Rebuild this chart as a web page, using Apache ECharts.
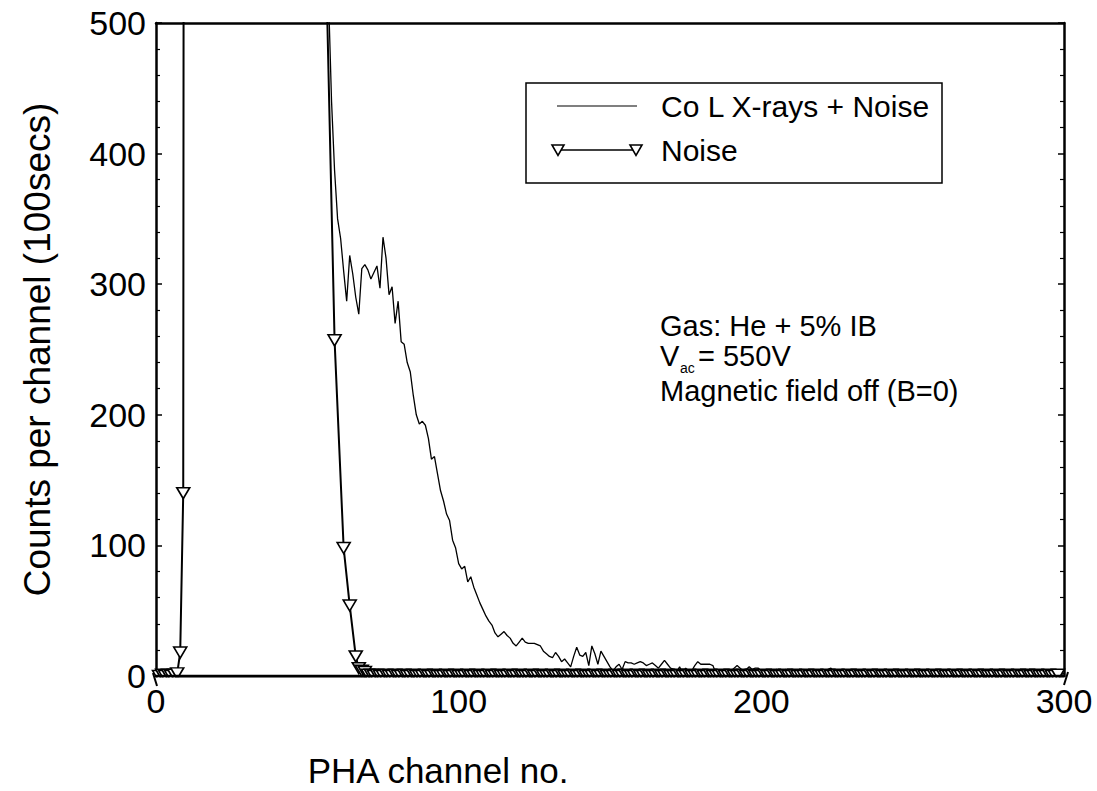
<!DOCTYPE html>
<html><head><meta charset="utf-8">
<script src="https://cdn.jsdelivr.net/npm/echarts@6/dist/echarts.min.js"></script>
<style>html,body{margin:0;padding:0;background:#fff}#c{width:1097px;height:791px}</style>
</head><body><div id="c"></div>
<script>
// ---- data ----
const xrayName = 'Co L X-rays + Noise';
const noiseName = 'Noise';
const xTitle = 'PHA channel no.';
const yTitle = 'Counts per channel (100secs)';
const noteLines = ['Gas: He + 5% IB', 'V', 'ac', '= 550V', 'Magnetic field off (B=0)'];
const xMin = 0, xMax = 300, xStep = 100;
const yMin = 0, yMax = 500, yStep = 100;

// Co L X-rays + Noise: channel start and per-channel counts
const xrayStart = 50;
const xrayCounts = [
 1500,1300,1100,950,820,730,640,520,440,387,
 350,335,310,287,322,308,290,277,312,315,
 311,304,309,314,297,336,320,292,298,270,
 287,256,254,240,233,215,200,193,195,192,
 182,166,168,155,142,134,124,119,104,98,
 86,82,84,72,76,68,62,56,51,46,
 42,39,33,30,32,34,31,29,25,23,
 26,29,26,25,25,25,24,23,19,17,
 15,14,18,15,11,13,10,7,15,22,
 16,15,18,8,23,17,9,19,15,11,
 7,4,7,9,5,11,10,10,9,10,
 11,10,8,9,10,8,6,9,12,9,
 6,5,3,7,2,6,3,4,8,11,
 9,9,9,9,8,2,4,4,4,4,
 4,6,8,6,4,5,7,5,6,6,
 2,3,3,2,4,5,4,3,5,4,
 5,3,4,3,5,4,2,3,5,3,
 4,3,5,6,3,5,3,4,3,5,
 3,2,4,3,2,4,3,2,3,2,
 3,2,3,3,2,3,2,2,1,2,
 2,1,2,2,1,2,1,2,2,1,
 2,2,1,2,1,2,2,1,2,1,
 2,1,2,2,1,2,1,2,1,2,
 2,1,2,1,2,1,2,2,1,2,
 1,2,1,2,1,2,2,1,2,1,
 2
];

// Noise: measured points (channel, counts)
const noiseChannels = [1,2,3,4,5,6,7,8,9,10,53.5,59,62,64,66,67,68,69,70];
const noiseCounts   = [0,1,0,1,0,1,2,18,140,3500,820,257,98,54,15,6,4,3,1];
// Noise baseline, channels 71..298
const noiseTailStart = 71;
const noiseTail = [
 1,0,1,0,0,1,0,0,1,0, 0,1,0,0,1,0,0,0,1,0, 0,1,0,0,0,1,0,0,1,0,
 0,0,1,0,0,1,0,0,0,1, 0,0,1,0,0,0,1,0,0,1, 0,0,0,1,0,0,1,0,0,0,
 1,0,0,1,0,0,0,1,0,0, 1,0,0,0,1,0,0,1,0,0, 0,1,0,0,1,0,0,0,1,0,
 0,1,0,0,0,1,0,0,1,0, 0,0,1,0,0,1,0,0,0,1, 0,0,1,0,0,0,1,0,0,1,
 0,0,0,1,0,0,1,0,0,0, 1,0,0,1,0,0,0,1,0,0, 1,0,0,0,1,0,0,1,0,0,
 0,1,0,0,1,0,0,0,1,0, 0,1,0,0,0,1,0,0,1,0, 0,0,1,0,0,1,0,0,0,1,
 0,0,1,0,0,0,1,0,0,1, 0,0,0,1,0,0,1,0,0,0, 1,0,0,1,0,0,0,1,0,0,
 1,0,0,0,1,0,0,1,0,0, 1,0,0,0,1,0,0,1
];

// ---- build ----
const FONT = "'Liberation Sans', Arial, Helvetica, sans-serif";
const xrayData = xrayCounts.map((v, i) => [xrayStart + i, v]);
const noiseData = noiseChannels.map((c, i) => [c, noiseCounts[i]])
  .concat(noiseTail.map((v, i) => [noiseTailStart + i, v]));

const chart = echarts.init(document.getElementById('c'), null, {renderer: 'svg'});
const GRID = {left: 156, right: 33, top: 23, bottom: 115};
const axisBase = {min: xMin, max: xMax, interval: xStep};
const yTicksStyle = {
  axisLine: {show: true, onZero: false, lineStyle: {color: '#000', width: 2.5}},
  axisTick: {show: true, inside: true, length: 6, lineStyle: {color: '#000', width: 1.5}},
  minorTick: {show: true, splitNumber: 5, length: 4, lineStyle: {color: '#000', width: 1.2}},
  splitLine: {show: false}
};
const option = {
  backgroundColor: '#fff',
  animation: false,
  grid: GRID,
  xAxis: [{
    type: 'value', position: 'bottom', ...axisBase,
    axisLine: {show: true, onZero: false, lineStyle: {color: '#000', width: 2.5}},
    axisTick: {show: false},
    splitLine: {show: false},
    axisLabel: {color: '#000', fontSize: 34, fontFamily: FONT, margin: 8}
  }, {
    type: 'value', position: 'top', ...axisBase,
    axisLine: {show: true, onZero: false, lineStyle: {color: '#000', width: 2.5}},
    axisTick: {show: false}, axisLabel: {show: false}, splitLine: {show: false}
  }],
  yAxis: [{
    type: 'value', position: 'left', min: yMin, max: yMax, interval: yStep,
    name: yTitle, nameLocation: 'middle', nameRotate: 90, nameGap: 100,
    nameTextStyle: {color: '#000', fontSize: 37, fontFamily: FONT},
    ...yTicksStyle,
    axisLabel: {color: '#000', fontSize: 34, fontFamily: FONT, margin: 10}
  }, {
    type: 'value', position: 'right', min: yMin, max: yMax, interval: yStep,
    ...yTicksStyle, axisLabel: {show: false}
  }],
  series: [{
    name: xrayName, type: 'line', data: xrayData, xAxisIndex: 0, yAxisIndex: 0,
    showSymbol: false, symbol: 'none', clip: true,
    lineStyle: {color: '#000', width: 1.3}, z: 3
  }, {
    name: noiseName, type: 'line', data: noiseData, xAxisIndex: 0, yAxisIndex: 0,
    symbol: 'triangle', symbolRotate: 180, symbolSize: [13, 11], clip: true,
    showAllSymbol: true,
    itemStyle: {color: '#fff', borderColor: '#000', borderWidth: 1.6},
    lineStyle: {color: '#000', width: 2}, z: 4
  }]
};
chart.setOption(option);

// decorations positioned from the axes
const p0 = chart.convertToPixel({gridIndex: 0}, [xMin, yMin]);
const p1 = chart.convertToPixel({gridIndex: 0}, [xMax, yMax]);
const T = (x, y, s) => [[x - s/2, y - s*0.42], [x + s/2, y - s*0.42], [x, y + s*0.45]];
const txt = (x, y, text, size, extra) => ({type: 'text', z: 61,
  style: Object.assign({x: x, y: y, text: text, font: size + 'px ' + FONT, fill: '#000', verticalAlign: 'middle'}, extra || {})});
const graphics = [
  // hides the lower halves of markers sitting on the x axis
  {type: 'rect', z: 50, silent: true, shape: {x: p0[0] - 10, y: p0[1] + 1.5, width: p1[0] - p0[0] + 20, height: 8}, style: {fill: '#fff'}},
  {type: 'line', z: 51, shape: {x1: p0[0] - 3, y1: p0[1] - 3, x2: p0[0] + 1, y2: p0[1] + 10}, style: {stroke: '#000', lineWidth: 2}},
  {type: 'line', z: 51, shape: {x1: p1[0] + 4, y1: p0[1] - 4, x2: p1[0], y2: p0[1] + 9}, style: {stroke: '#000', lineWidth: 2}},
  {type: 'line', z: 51, shape: {x1: p0[0], y1: p0[1], x2: p1[0], y2: p0[1]}, style: {stroke: '#000', lineWidth: 2.5}},
  // legend box
  {type: 'rect', z: 60, shape: {x: 526, y: 83, width: 416, height: 100}, style: {fill: '#fff', stroke: '#000', lineWidth: 1.5}},
  {type: 'line', z: 61, shape: {x1: 557, y1: 106, x2: 637, y2: 106}, style: {stroke: '#000', lineWidth: 1.2}},
  txt(661, 106, xrayName, 30),
  {type: 'line', z: 61, shape: {x1: 558, y1: 150, x2: 636, y2: 150}, style: {stroke: '#000', lineWidth: 1.6}},
  {type: 'polygon', z: 62, shape: {points: T(558, 150, 12)}, style: {fill: '#fff', stroke: '#000', lineWidth: 1.6}},
  {type: 'polygon', z: 62, shape: {points: T(636, 150, 12)}, style: {fill: '#fff', stroke: '#000', lineWidth: 1.6}},
  txt(661, 150, noiseName, 30),
  // annotation
  txt(660, 326, noteLines[0], 29),
  txt(660, 356, noteLines[1], 29),
  txt(680, 368, noteLines[2], 14),
  txt(698, 356, noteLines[3], 29),
  txt(660, 391, noteLines[4], 29),
  // x axis title
  txt(438, 770, xTitle, 35, {align: 'center'})
];
chart.setOption({graphic: graphics});
</script>
</body></html>
